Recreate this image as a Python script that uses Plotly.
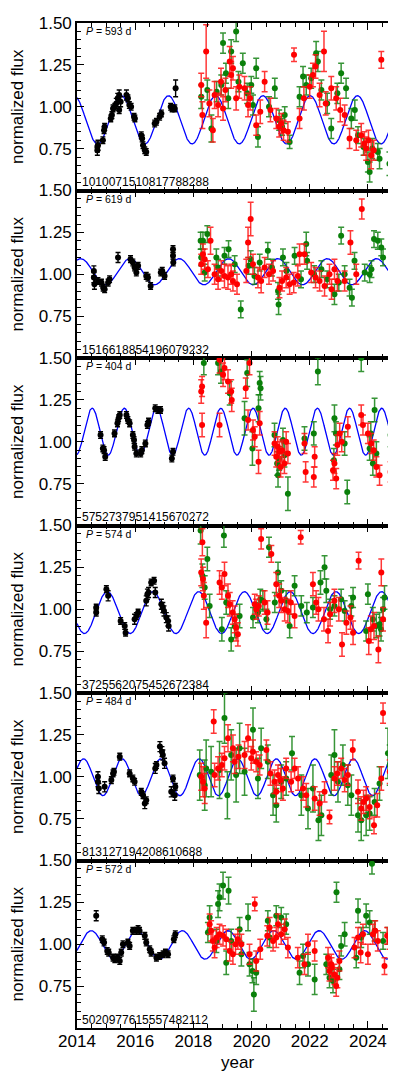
import numpy as np
import plotly.graph_objects as go
from plotly.subplots import make_subplots

# ---------------- panel metadata ----------------
source_ids = ["1010071510817788288", "1516618854196079232", "5752737951415670272",
              "3725562075452672384", "813127194208610688", "5020977615557482112"]
periods_days = [593, 619, 404, 574, 484, 572]
fit_mean = [0.922, 1.015, 1.06, 0.98, 0.997, 0.996]
fit_amp = [0.144, 0.078, 0.14, 0.125, 0.11, 0.085]
fit_tmax = [2015.52, 2015.82, 2014.52, 2015.04, 2015.55, 2014.49]

x_ticks = [2014, 2016, 2018, 2020, 2022, 2024]
y_ticks = [0.5, 0.75, 1.0, 1.25, 1.5]
y_ticktext = ["", "0.75", "1.00", "1.25", "1.50"]

# ---------------- panel 1 ----------------
p1_blk_x = [2014.70, 2014.70, 2014.72, 2014.89, 2014.93, 2014.95, 2015.16, 2015.20, 2015.24, 2015.30, 2015.35, 2015.40, 2015.45, 2015.50, 2015.45, 2015.70, 2015.75, 2015.80, 2015.86, 2015.96, 2015.99, 2016.21, 2016.24, 2016.27, 2016.33, 2016.38, 2016.67, 2016.73, 2016.84, 2016.90, 2017.22, 2017.27, 2017.36, 2017.39]
p1_blk_y = [0.76, 0.74, 0.77, 0.80, 0.86, 0.88, 0.93, 0.95, 0.99, 1.00, 1.02, 1.05, 1.07, 1.03, 0.98, 1.07, 1.05, 1.01, 1.00, 0.94, 0.93, 0.83, 0.81, 0.77, 0.74, 0.73, 0.90, 0.91, 0.94, 0.96, 1.00, 0.99, 0.99, 1.11]
p1_blk_e = [0.03, 0.03, 0.03, 0.02, 0.02, 0.02, 0.02, 0.02, 0.02, 0.02, 0.03, 0.03, 0.03, 0.03, 0.02, 0.03, 0.02, 0.02, 0.02, 0.02, 0.02, 0.02, 0.02, 0.02, 0.02, 0.02, 0.02, 0.02, 0.02, 0.02, 0.02, 0.02, 0.02, 0.05]
p1_grn_x = [2018.27, 2018.48, 2018.62, 2018.80, 2018.96, 2019.02, 2019.12, 2019.20, 2019.30, 2019.47, 2019.55, 2019.70, 2019.85, 2019.99, 2020.05, 2020.16, 2020.22, 2020.60, 2020.80, 2020.95, 2021.05, 2021.14, 2021.31, 2021.65, 2021.77, 2021.88, 2022.05, 2022.22, 2022.28, 2022.40, 2022.60, 2022.74, 2022.95, 2023.08, 2023.25, 2023.43, 2023.55, 2023.66, 2023.85, 2024.00, 2024.06, 2024.15, 2024.34, 2024.40, 2024.74, 2024.80, 2024.85]
p1_grn_y = [1.06, 1.10, 0.87, 1.09, 1.13, 1.38, 1.20, 1.05, 1.33, 1.45, 1.15, 1.26, 1.08, 1.13, 1.01, 1.23, 0.82, 1.00, 1.11, 0.92, 0.88, 0.95, 0.79, 1.06, 1.18, 1.13, 1.17, 1.32, 1.27, 1.10, 1.02, 0.87, 1.08, 1.20, 1.11, 0.93, 0.98, 0.83, 0.76, 0.67, 0.61, 0.75, 0.73, 0.69, 0.66, 0.75, 0.61]
p1_grn_e = [0.07, 0.06, 0.08, 0.06, 0.06, 0.06, 0.06, 0.06, 0.07, 0.06, 0.06, 0.06, 0.06, 0.05, 0.06, 0.06, 0.06, 0.06, 0.06, 0.06, 0.05, 0.05, 0.04, 0.06, 0.06, 0.06, 0.06, 0.07, 0.06, 0.06, 0.06, 0.06, 0.06, 0.06, 0.06, 0.06, 0.06, 0.05, 0.05, 0.06, 0.06, 0.06, 0.05, 0.06, 0.07, 0.05, 0.06]
p1_red_x = [2018.27, 2018.31, 2018.44, 2018.55, 2018.67, 2018.73, 2018.85, 2018.95, 2019.02, 2019.10, 2019.25, 2019.30, 2019.36, 2019.47, 2019.58, 2019.76, 2019.88, 2019.95, 2020.16, 2020.30, 2020.45, 2020.65, 2020.85, 2020.95, 2021.02, 2021.10, 2021.25, 2021.46, 2021.65, 2021.80, 2022.00, 2022.11, 2022.20, 2022.34, 2022.49, 2022.55, 2022.74, 2022.91, 2023.05, 2023.20, 2023.37, 2023.60, 2023.77, 2023.88, 2023.94, 2024.02, 2024.11, 2024.20, 2024.46, 2024.80]
p1_red_y = [1.13, 0.95, 1.33, 1.02, 0.86, 1.07, 1.01, 1.15, 0.99, 1.10, 1.27, 1.19, 1.23, 1.05, 1.12, 1.11, 1.01, 1.05, 0.89, 0.97, 1.15, 0.98, 0.93, 0.88, 0.90, 0.86, 0.85, 1.31, 0.93, 1.05, 1.12, 1.19, 1.24, 1.07, 1.33, 1.02, 1.11, 1.05, 0.98, 0.95, 0.81, 0.80, 0.83, 0.78, 0.75, 0.80, 0.71, 0.74, 1.28, 0.88]
p1_red_e = [0.07, 0.08, 0.16, 0.08, 0.07, 0.08, 0.07, 0.08, 0.07, 0.07, 0.09, 0.08, 0.07, 0.07, 0.07, 0.07, 0.07, 0.07, 0.06, 0.07, 0.06, 0.07, 0.06, 0.06, 0.06, 0.06, 0.06, 0.04, 0.06, 0.07, 0.07, 0.07, 0.07, 0.07, 0.12, 0.07, 0.07, 0.07, 0.07, 0.06, 0.06, 0.06, 0.07, 0.07, 0.07, 0.06, 0.08, 0.06, 0.05, 0.07]

# ---------------- panel 2 ----------------
p2_blk_x = [2014.58, 2014.58, 2014.60, 2014.72, 2014.84, 2014.90, 2014.95, 2015.07, 2015.12, 2015.41, 2015.84, 2015.92, 2015.98, 2016.04, 2016.10, 2016.38, 2016.44, 2016.53, 2016.88, 2016.93, 2017.01, 2017.30, 2017.30, 2017.31]
p2_blk_y = [1.02, 0.98, 0.94, 0.96, 0.95, 0.92, 0.91, 0.95, 0.97, 1.10, 1.09, 1.07, 1.04, 1.01, 1.05, 0.99, 0.98, 0.93, 1.01, 1.02, 0.99, 1.15, 1.11, 1.07]
p2_blk_e = [0.03, 0.03, 0.03, 0.02, 0.02, 0.02, 0.02, 0.02, 0.02, 0.03, 0.02, 0.02, 0.02, 0.02, 0.02, 0.02, 0.02, 0.02, 0.02, 0.02, 0.02, 0.02, 0.02, 0.02]
p2_grn_x = [2018.25, 2018.27, 2018.33, 2018.39, 2018.48, 2018.79, 2018.85, 2019.07, 2019.21, 2019.42, 2019.63, 2019.90, 2019.97, 2020.10, 2020.28, 2020.56, 2020.70, 2020.91, 2020.93, 2021.08, 2021.20, 2021.48, 2021.70, 2021.88, 2021.91, 2022.15, 2022.40, 2022.60, 2022.85, 2023.00, 2023.08, 2023.20, 2023.37, 2023.45, 2023.54, 2023.89, 2024.06, 2024.12, 2024.21, 2024.34, 2024.46, 2024.52]
p2_grn_y = [1.20, 1.10, 1.20, 1.01, 1.24, 1.10, 1.04, 1.11, 1.15, 1.06, 0.79, 1.05, 1.09, 0.99, 1.07, 1.14, 1.04, 0.90, 0.82, 1.10, 1.02, 1.11, 0.97, 1.18, 1.08, 1.00, 1.03, 0.97, 0.88, 0.95, 1.23, 1.00, 0.92, 0.86, 1.08, 1.01, 1.00, 1.03, 1.21, 1.20, 1.16, 1.10]
p2_grn_e = [0.05, 0.05, 0.05, 0.05, 0.05, 0.05, 0.05, 0.05, 0.05, 0.05, 0.05, 0.05, 0.05, 0.05, 0.05, 0.05, 0.05, 0.05, 0.06, 0.05, 0.05, 0.05, 0.05, 0.07, 0.05, 0.05, 0.05, 0.05, 0.06, 0.05, 0.05, 0.05, 0.05, 0.05, 0.05, 0.05, 0.05, 0.05, 0.05, 0.05, 0.05, 0.05]
p2_red_x = [2018.27, 2018.33, 2018.39, 2018.50, 2018.59, 2018.73, 2018.85, 2018.96, 2019.07, 2019.19, 2019.30, 2019.36, 2019.50, 2019.82, 2019.88, 2019.97, 2020.05, 2020.22, 2020.33, 2020.45, 2020.60, 2020.74, 2020.96, 2021.05, 2021.19, 2021.31, 2021.45, 2021.59, 2021.65, 2021.82, 2022.05, 2022.20, 2022.34, 2022.51, 2022.68, 2022.75, 2022.85, 2022.95, 2023.20, 2023.40, 2023.60, 2023.79]
p2_red_y = [1.06, 1.12, 1.09, 1.03, 1.20, 1.00, 0.97, 1.02, 0.99, 0.98, 1.00, 0.96, 0.94, 1.02, 1.19, 1.33, 1.06, 0.98, 0.96, 1.04, 1.00, 1.02, 0.92, 0.96, 0.98, 0.94, 0.95, 0.99, 1.12, 1.12, 1.01, 0.98, 0.96, 0.93, 1.00, 0.91, 1.03, 0.96, 0.96, 1.19, 1.00, 1.39]
p2_red_e = [0.06, 0.06, 0.06, 0.05, 0.08, 0.06, 0.06, 0.06, 0.07, 0.07, 0.06, 0.06, 0.06, 0.07, 0.09, 0.10, 0.06, 0.06, 0.07, 0.06, 0.06, 0.06, 0.06, 0.06, 0.06, 0.06, 0.06, 0.06, 0.06, 0.06, 0.06, 0.06, 0.06, 0.06, 0.06, 0.06, 0.06, 0.06, 0.06, 0.07, 0.06, 0.06]

# ---------------- panel 3 ----------------
p3_blk_x = [2014.81, 2014.89, 2014.93, 2014.97, 2015.29, 2015.39, 2015.43, 2015.47, 2015.70, 2015.75, 2015.81, 2015.92, 2015.96, 2015.98, 2016.04, 2016.19, 2016.23, 2016.35, 2016.42, 2016.46, 2016.69, 2016.78, 2016.87, 2017.26, 2017.30]
p3_blk_y = [1.04, 0.96, 0.95, 0.91, 1.05, 1.11, 1.14, 1.16, 1.16, 1.13, 1.11, 1.04, 1.01, 0.97, 0.93, 0.93, 0.95, 0.99, 1.10, 1.12, 1.20, 1.19, 1.19, 0.90, 0.94]
p3_blk_e = [0.02, 0.02, 0.02, 0.02, 0.02, 0.02, 0.02, 0.02, 0.02, 0.02, 0.02, 0.02, 0.02, 0.02, 0.02, 0.02, 0.02, 0.02, 0.02, 0.02, 0.02, 0.02, 0.02, 0.02, 0.02]
p3_grn_x = [2018.36, 2018.85, 2018.95, 2019.25, 2019.76, 2019.85, 2020.03, 2020.24, 2020.28, 2020.31, 2020.79, 2020.88, 2020.91, 2020.95, 2021.08, 2021.13, 2021.25, 2021.82, 2022.14, 2022.28, 2022.83, 2022.85, 2022.90, 2023.20, 2023.29, 2023.77, 2024.06, 2024.10, 2024.17, 2024.23, 2024.29, 2024.78]
p3_grn_y = [1.47, 1.47, 1.42, 1.29, 1.14, 1.41, 0.96, 1.20, 1.35, 1.32, 1.04, 0.87, 0.80, 0.90, 1.01, 0.92, 0.69, 1.02, 1.05, 1.42, 0.89, 1.14, 1.05, 0.99, 0.70, 1.50, 0.96, 1.05, 0.87, 1.19, 0.93, 1.04]
p3_grn_e = [0.07, 0.07, 0.07, 0.07, 0.10, 0.08, 0.10, 0.08, 0.07, 0.07, 0.07, 0.07, 0.07, 0.07, 0.07, 0.07, 0.10, 0.07, 0.07, 0.08, 0.07, 0.08, 0.07, 0.07, 0.07, 0.08, 0.07, 0.07, 0.07, 0.07, 0.07, 0.07]
p3_red_x = [2018.27, 2018.30, 2018.30, 2018.90, 2018.90, 2019.02, 2019.07, 2019.19, 2019.30, 2019.32, 2019.80, 2019.88, 2019.93, 2020.05, 2020.11, 2020.24, 2020.28, 2020.79, 2020.85, 2020.90, 2020.96, 2021.00, 2021.05, 2021.13, 2021.19, 2021.25, 2021.82, 2021.86, 2022.14, 2022.17, 2022.80, 2022.85, 2022.91, 2022.95, 2023.03, 2023.10, 2023.31, 2023.77, 2023.83, 2024.00, 2024.11, 2024.20, 2024.29, 2024.40, 2024.78, 2024.80]
p3_red_y = [1.30, 1.33, 1.10, 1.10, 1.49, 1.40, 1.44, 1.36, 1.30, 1.25, 1.32, 1.13, 1.47, 1.07, 1.03, 0.88, 1.11, 0.99, 0.91, 0.97, 0.94, 0.85, 0.95, 0.87, 1.00, 0.93, 0.99, 0.82, 0.79, 0.91, 0.83, 0.87, 0.78, 0.98, 1.05, 1.00, 1.09, 1.16, 1.10, 1.05, 0.99, 0.95, 0.85, 0.80, 0.82, 0.90]
p3_red_e = [0.07, 0.06, 0.07, 0.07, 0.08, 0.07, 0.07, 0.07, 0.07, 0.07, 0.06, 0.06, 0.07, 0.06, 0.06, 0.07, 0.07, 0.07, 0.06, 0.06, 0.06, 0.06, 0.06, 0.06, 0.06, 0.06, 0.06, 0.06, 0.06, 0.06, 0.06, 0.06, 0.06, 0.06, 0.06, 0.06, 0.06, 0.06, 0.06, 0.06, 0.06, 0.06, 0.06, 0.06, 0.06, 0.06]

# ---------------- panel 4 ----------------
p4_blk_x = [2014.66, 2014.66, 2015.01, 2015.07, 2015.50, 2015.64, 2015.67, 2015.98, 2016.04, 2016.10, 2016.38, 2016.42, 2016.46, 2016.55, 2016.65, 2016.69, 2016.90, 2016.95, 2016.99, 2017.07, 2017.13, 2017.15]
p4_blk_y = [1.01, 0.98, 1.12, 1.08, 0.93, 0.90, 0.86, 0.94, 0.96, 0.98, 1.05, 1.09, 1.10, 1.16, 1.17, 1.10, 1.03, 1.01, 0.99, 0.95, 0.93, 0.90]
p4_blk_e = [0.02, 0.02, 0.02, 0.03, 0.02, 0.02, 0.02, 0.03, 0.02, 0.02, 0.03, 0.03, 0.03, 0.02, 0.02, 0.03, 0.03, 0.03, 0.03, 0.03, 0.03, 0.03]
p4_grn_x = [2018.25, 2018.31, 2018.39, 2018.48, 2018.56, 2018.98, 2019.05, 2019.13, 2019.30, 2019.42, 2019.59, 2020.05, 2020.22, 2020.30, 2020.39, 2020.51, 2020.60, 2020.80, 2020.91, 2021.02, 2021.19, 2021.31, 2021.48, 2021.71, 2021.90, 2022.11, 2022.37, 2022.51, 2022.57, 2022.70, 2022.85, 2023.08, 2023.20, 2023.43, 2023.49, 2023.94, 2024.00, 2024.17, 2024.29, 2024.40, 2024.45, 2024.52, 2024.57]
p4_grn_y = [1.47, 1.20, 1.13, 1.30, 1.02, 0.88, 1.44, 1.04, 0.82, 0.90, 0.96, 0.95, 0.98, 1.06, 1.05, 0.94, 1.37, 1.04, 1.22, 1.11, 1.05, 0.90, 1.14, 1.02, 0.98, 1.01, 1.16, 1.25, 1.11, 1.00, 1.02, 1.06, 0.99, 1.02, 1.07, 0.87, 1.09, 0.94, 0.90, 0.91, 0.88, 1.00, 1.07]
p4_grn_e = [0.08, 0.07, 0.07, 0.07, 0.07, 0.07, 0.07, 0.07, 0.07, 0.07, 0.07, 0.06, 0.06, 0.06, 0.06, 0.06, 0.06, 0.06, 0.06, 0.06, 0.06, 0.07, 0.06, 0.06, 0.06, 0.06, 0.07, 0.07, 0.07, 0.06, 0.06, 0.06, 0.06, 0.06, 0.06, 0.06, 0.06, 0.07, 0.07, 0.07, 0.07, 0.07, 0.07]
p4_red_x = [2018.27, 2018.31, 2018.33, 2018.36, 2018.44, 2018.90, 2018.98, 2019.07, 2019.19, 2019.25, 2019.35, 2019.42, 2019.47, 2019.53, 2020.11, 2020.16, 2020.25, 2020.33, 2020.45, 2020.55, 2020.68, 2020.85, 2020.95, 2021.02, 2021.14, 2021.25, 2021.35, 2021.48, 2021.69, 2022.11, 2022.22, 2022.30, 2022.49, 2022.63, 2022.70, 2022.85, 2023.00, 2023.11, 2023.26, 2023.40, 2023.49, 2023.68, 2024.03, 2024.10, 2024.21, 2024.36, 2024.46, 2024.52]
p4_red_y = [1.22, 1.40, 1.18, 1.08, 0.92, 1.16, 1.13, 1.21, 1.08, 1.03, 0.98, 0.94, 0.89, 0.85, 1.03, 1.00, 1.02, 1.42, 1.04, 0.98, 1.33, 1.15, 1.08, 1.05, 1.00, 0.99, 1.04, 0.96, 1.43, 1.15, 1.04, 1.00, 0.94, 0.87, 0.97, 1.05, 1.00, 0.79, 0.92, 0.95, 0.86, 1.29, 0.81, 0.88, 0.90, 0.76, 1.22, 0.94]
p4_red_e = [0.08, 0.08, 0.07, 0.08, 0.09, 0.07, 0.07, 0.07, 0.07, 0.07, 0.07, 0.08, 0.08, 0.07, 0.06, 0.06, 0.06, 0.06, 0.07, 0.07, 0.05, 0.07, 0.07, 0.07, 0.07, 0.07, 0.07, 0.07, 0.04, 0.07, 0.07, 0.07, 0.07, 0.07, 0.07, 0.07, 0.07, 0.07, 0.07, 0.07, 0.07, 0.05, 0.08, 0.08, 0.08, 0.08, 0.08, 0.07]

# ---------------- panel 5 ----------------
p5_blk_x = [2014.72, 2014.72, 2014.75, 2014.95, 2015.18, 2015.24, 2015.27, 2015.47, 2015.81, 2015.92, 2015.98, 2016.21, 2016.27, 2016.33, 2016.38, 2016.69, 2016.73, 2016.85, 2016.92, 2016.95, 2017.01, 2017.24, 2017.30, 2017.36, 2017.38]
p5_blk_y = [1.00, 0.97, 0.93, 0.94, 0.98, 1.02, 1.03, 1.12, 1.02, 0.99, 0.97, 0.91, 0.89, 0.84, 0.86, 1.05, 1.07, 1.18, 1.15, 1.13, 1.08, 0.91, 0.99, 0.89, 0.94]
p5_blk_e = [0.03, 0.03, 0.03, 0.03, 0.02, 0.02, 0.02, 0.02, 0.02, 0.02, 0.02, 0.02, 0.02, 0.03, 0.02, 0.03, 0.02, 0.03, 0.03, 0.03, 0.03, 0.03, 0.02, 0.03, 0.02]
p5_grn_x = [2018.22, 2018.39, 2018.44, 2018.61, 2018.90, 2019.07, 2019.17, 2019.30, 2019.47, 2019.59, 2019.76, 2020.05, 2020.22, 2020.33, 2020.56, 2020.74, 2020.85, 2021.02, 2021.19, 2021.39, 2021.71, 2021.94, 2022.11, 2022.30, 2022.40, 2022.74, 2022.85, 2022.97, 2023.14, 2023.31, 2023.43, 2023.66, 2023.77, 2023.94, 2024.06, 2024.23, 2024.40, 2024.69, 2024.75, 2024.80]
p5_grn_y = [1.01, 0.95, 1.05, 1.03, 1.04, 1.35, 0.89, 1.13, 1.01, 1.17, 1.03, 1.28, 0.99, 1.17, 1.09, 0.89, 0.83, 0.97, 0.99, 1.14, 0.89, 0.81, 0.93, 0.74, 0.77, 1.01, 1.13, 0.97, 1.07, 0.95, 0.89, 0.77, 0.74, 0.77, 0.78, 0.85, 0.96, 1.14, 1.07, 0.92]
p5_grn_e = [0.15, 0.15, 0.17, 0.15, 0.17, 0.15, 0.14, 0.15, 0.16, 0.15, 0.14, 0.13, 0.12, 0.12, 0.10, 0.12, 0.10, 0.10, 0.10, 0.10, 0.12, 0.12, 0.14, 0.12, 0.12, 0.12, 0.15, 0.12, 0.12, 0.12, 0.12, 0.10, 0.12, 0.12, 0.10, 0.08, 0.10, 0.15, 0.12, 0.15]
p5_red_x = [2018.27, 2018.33, 2018.39, 2018.70, 2018.73, 2018.85, 2018.98, 2019.07, 2019.19, 2019.36, 2019.42, 2019.55, 2019.76, 2019.88, 2019.99, 2020.05, 2020.16, 2020.28, 2020.51, 2020.65, 2020.79, 2020.85, 2020.91, 2021.00, 2021.08, 2021.19, 2021.36, 2021.48, 2021.60, 2021.77, 2021.88, 2022.17, 2022.34, 2022.51, 2022.68, 2022.85, 2022.95, 2023.08, 2023.20, 2023.31, 2023.48, 2023.66, 2023.77, 2023.85, 2023.94, 2024.06, 2024.21, 2024.32, 2024.46, 2024.52, 2024.75, 2024.86]
p5_red_y = [1.00, 0.97, 0.93, 1.33, 1.01, 1.05, 1.07, 1.11, 1.23, 1.17, 1.09, 1.12, 1.13, 1.23, 1.11, 1.15, 1.09, 1.07, 1.16, 1.02, 0.97, 0.91, 1.01, 0.98, 0.93, 1.05, 0.97, 1.05, 0.99, 0.93, 0.89, 0.87, 0.84, 0.91, 0.76, 0.99, 1.02, 1.05, 0.98, 1.01, 1.16, 0.91, 0.81, 0.85, 0.87, 0.82, 0.71, 0.83, 0.99, 1.38, 1.03, 0.99]
p5_red_e = [0.08, 0.09, 0.09, 0.07, 0.07, 0.07, 0.07, 0.07, 0.08, 0.08, 0.07, 0.07, 0.08, 0.08, 0.07, 0.07, 0.06, 0.06, 0.06, 0.07, 0.07, 0.07, 0.06, 0.07, 0.07, 0.06, 0.06, 0.06, 0.07, 0.07, 0.07, 0.07, 0.07, 0.06, 0.04, 0.07, 0.07, 0.06, 0.07, 0.06, 0.06, 0.07, 0.07, 0.07, 0.07, 0.07, 0.05, 0.07, 0.07, 0.06, 0.07, 0.07]

# ---------------- panel 6 ----------------
p6_blk_x = [2014.66, 2014.87, 2014.93, 2015.04, 2015.09, 2015.24, 2015.30, 2015.39, 2015.47, 2015.52, 2015.58, 2015.75, 2015.81, 2015.92, 2016.04, 2016.10, 2016.15, 2016.33, 2016.38, 2016.50, 2016.55, 2016.73, 2016.84, 2016.96, 2017.04, 2017.13, 2017.33, 2017.38]
p6_blk_y = [1.17, 1.03, 1.01, 0.96, 0.95, 0.92, 0.91, 0.92, 0.90, 0.95, 1.00, 1.01, 0.99, 1.08, 1.08, 1.09, 1.08, 1.05, 1.01, 0.97, 0.95, 0.92, 0.93, 0.94, 0.95, 0.94, 1.03, 1.06]
p6_blk_e = [0.03, 0.02, 0.02, 0.02, 0.02, 0.02, 0.02, 0.02, 0.02, 0.02, 0.02, 0.02, 0.02, 0.02, 0.02, 0.02, 0.02, 0.02, 0.02, 0.02, 0.02, 0.02, 0.02, 0.02, 0.02, 0.02, 0.02, 0.02]
p6_grn_x = [2018.50, 2018.56, 2018.79, 2018.85, 2018.90, 2019.02, 2019.13, 2019.21, 2019.30, 2019.59, 2019.65, 2019.88, 2019.93, 2020.03, 2020.08, 2020.16, 2020.56, 2020.62, 2020.85, 2021.02, 2021.19, 2021.65, 2021.77, 2021.94, 2022.17, 2022.57, 2022.68, 2022.80, 2022.92, 2023.02, 2023.08, 2023.20, 2023.60, 2023.66, 2023.77, 2023.94, 2024.06, 2024.14, 2024.23, 2024.52, 2024.69, 2024.80]
p6_grn_y = [1.07, 1.16, 1.02, 1.24, 1.28, 1.35, 0.89, 1.32, 1.02, 1.09, 0.94, 1.16, 0.88, 0.84, 0.70, 0.83, 1.14, 1.04, 1.17, 1.16, 1.12, 0.83, 0.93, 0.88, 0.79, 0.88, 0.80, 0.78, 1.31, 0.85, 0.99, 1.06, 0.92, 1.20, 1.04, 1.17, 1.13, 1.48, 1.08, 1.02, 1.05, 0.86]
p6_grn_e = [0.06, 0.07, 0.07, 0.08, 0.08, 0.08, 0.07, 0.08, 0.07, 0.07, 0.07, 0.08, 0.07, 0.07, 0.10, 0.07, 0.06, 0.06, 0.06, 0.06, 0.06, 0.07, 0.07, 0.07, 0.09, 0.06, 0.06, 0.07, 0.06, 0.06, 0.06, 0.07, 0.06, 0.07, 0.06, 0.07, 0.07, 0.06, 0.06, 0.05, 0.05, 0.05]
p6_red_x = [2018.56, 2018.61, 2018.67, 2018.73, 2018.80, 2018.90, 2019.02, 2019.13, 2019.25, 2019.36, 2019.45, 2019.53, 2019.65, 2019.93, 2020.11, 2020.16, 2020.30, 2020.54, 2020.62, 2020.74, 2020.85, 2020.91, 2021.02, 2021.14, 2021.25, 2021.59, 2021.82, 2021.94, 2022.17, 2022.63, 2022.68, 2022.74, 2022.75, 2022.85, 2022.91, 2022.95, 2023.02, 2023.54, 2023.66, 2023.75, 2023.83, 2024.00, 2024.17, 2024.25, 2024.34, 2024.57, 2024.66, 2024.74]
p6_red_y = [1.12, 1.08, 1.02, 0.98, 1.04, 1.06, 1.05, 1.03, 0.96, 0.94, 1.00, 1.03, 1.00, 0.94, 1.24, 0.90, 0.97, 1.05, 1.10, 1.02, 1.04, 1.12, 1.06, 1.09, 0.98, 0.92, 0.88, 1.00, 0.96, 0.92, 0.84, 0.88, 0.86, 0.82, 0.75, 0.80, 0.90, 0.98, 1.04, 0.95, 1.06, 0.94, 1.06, 1.08, 1.02, 0.87, 1.05, 1.02]
p6_red_e = [0.06, 0.06, 0.06, 0.06, 0.06, 0.06, 0.06, 0.06, 0.06, 0.06, 0.06, 0.06, 0.06, 0.06, 0.04, 0.06, 0.06, 0.06, 0.06, 0.06, 0.06, 0.06, 0.06, 0.06, 0.06, 0.06, 0.06, 0.06, 0.06, 0.06, 0.06, 0.06, 0.06, 0.06, 0.06, 0.06, 0.06, 0.06, 0.06, 0.06, 0.06, 0.06, 0.06, 0.06, 0.06, 0.05, 0.05, 0.05]

black_sets = [(p1_blk_x, p1_blk_y, p1_blk_e), (p2_blk_x, p2_blk_y, p2_blk_e), (p3_blk_x, p3_blk_y, p3_blk_e),
              (p4_blk_x, p4_blk_y, p4_blk_e), (p5_blk_x, p5_blk_y, p5_blk_e), (p6_blk_x, p6_blk_y, p6_blk_e)]
green_sets = [(p1_grn_x, p1_grn_y, p1_grn_e), (p2_grn_x, p2_grn_y, p2_grn_e), (p3_grn_x, p3_grn_y, p3_grn_e),
              (p4_grn_x, p4_grn_y, p4_grn_e), (p5_grn_x, p5_grn_y, p5_grn_e), (p6_grn_x, p6_grn_y, p6_grn_e)]
red_sets = [(p1_red_x, p1_red_y, p1_red_e), (p2_red_x, p2_red_y, p2_red_e), (p3_red_x, p3_red_y, p3_red_e),
            (p4_red_x, p4_red_y, p4_red_e), (p5_red_x, p5_red_y, p5_red_e), (p6_red_x, p6_red_y, p6_red_e)]

# ---------------- figure ----------------
W, H = 396, 1072
M_L, M_R, M_T, M_B = 69, 7, 15, 52
N = 6
FONT = "Liberation Sans, Arial, Helvetica, sans-serif"
GREEN = "#0a800a"
GREEN_BAR = "rgba(20,130,20,0.85)"
RED = "#ff0000"
RED_BAR = "rgba(255,20,20,0.85)"

fig = make_subplots(rows=N, cols=1, shared_xaxes=True, vertical_spacing=0)

t_model = np.linspace(2014.0, 2025.0, 1500)

for i in range(N):
    r = i + 1
    P_yr = periods_days[i] / 365.25
    model = fit_mean[i] + fit_amp[i] * np.cos(2 * np.pi * (t_model - fit_tmax[i]) / P_yr)
    fig.add_trace(go.Scatter(x=t_model, y=model, mode="lines",
                             line=dict(color="#0000ff", width=1.3),
                             hoverinfo="skip", showlegend=False), row=r, col=1)
    bx, by, be = black_sets[i]
    fig.add_trace(go.Scatter(x=bx, y=by, mode="markers",
                             marker=dict(color="black", size=6),
                             error_y=dict(type="data", array=be, color="black", thickness=1.4, width=2.5),
                             showlegend=False), row=r, col=1)
    gx, gy, ge = green_sets[i]
    fig.add_trace(go.Scatter(x=gx, y=gy, mode="markers",
                             marker=dict(color=GREEN, size=6),
                             error_y=dict(type="data", array=ge, color=GREEN_BAR, thickness=1.5, width=3),
                             showlegend=False), row=r, col=1)
    rx, ry, re = red_sets[i]
    fig.add_trace(go.Scatter(x=rx, y=ry, mode="markers",
                             marker=dict(color=RED, size=6),
                             error_y=dict(type="data", array=re, color=RED_BAR, thickness=1.5, width=3),
                             showlegend=False), row=r, col=1)

plot_h = H - M_T - M_B
ph = plot_h / N
for i in range(N):
    r = i + 1
    top = 1 - (i * ph) / plot_h
    bot = 1 - ((i + 1) * ph) / plot_h
    yname = "yaxis" if i == 0 else f"yaxis{r}"
    xname = "xaxis" if i == 0 else f"xaxis{r}"
    fig.layout[yname].update(
        domain=[max(bot, 0), min(top, 1)], range=[0.5, 1.5],
        tickvals=y_ticks, ticktext=y_ticktext,
        ticks="inside", ticklen=7, tickwidth=1.3, tickcolor="black",
        minor=dict(dtick=0.05, tick0=0.5, ticks="inside", ticklen=4, tickwidth=1, tickcolor="black", showgrid=False),
        showgrid=False, zeroline=False, showline=True, linecolor="black", linewidth=1.6,
        mirror="allticks",
        tickfont=dict(family=FONT, size=17, color="black"),
        title=dict(text="normalized flux", font=dict(family=FONT, size=17, color="black"), standoff=15),
    )
    fig.layout[xname].update(
        range=[2014, 2025], tickvals=x_ticks,
        ticks="inside", ticklen=7, tickwidth=1.3, tickcolor="black",
        minor=dict(dtick=0.5, tick0=2014, ticks="inside", ticklen=4, tickwidth=1, tickcolor="black", showgrid=False),
        showgrid=False, zeroline=False, showline=True, linecolor="black", linewidth=1.6,
        mirror="allticks",
        showticklabels=(r == N),
        tickfont=dict(family=FONT, size=17, color="black"),
    )
    xref = "x domain" if i == 0 else f"x{r} domain"
    yref = "y domain" if i == 0 else f"y{r} domain"
    fig.add_annotation(x=0.022, y=0.952, xref=xref, yref=yref, xanchor="left", yanchor="middle",
                       text=f"<i>P</i> = {periods_days[i]} d", showarrow=False,
                       font=dict(family=FONT, size=10.5, color="black"))
    fig.add_annotation(x=0.009, y=0.05, xref=xref, yref=yref, xanchor="left", yanchor="middle",
                       text=source_ids[i], showarrow=False,
                       font=dict(family=FONT, size=12, color="black"))

fig.layout[f"xaxis{N}"].update(ticklabelstandoff=-3)

# x-axis title placed just under the tick labels
fig.add_annotation(x=0.5, y=0, xref="paper", yref="paper", yshift=-34,
                   xanchor="center", yanchor="middle", text="year", showarrow=False,
                   font=dict(family=FONT, size=17, color="black"))

fig.update_layout(
    width=W, height=H,
    margin=dict(l=M_L, r=M_R, t=M_T, b=M_B, autoexpand=False),
    paper_bgcolor="white", plot_bgcolor="white",
    showlegend=False,
    font=dict(family=FONT, color="black"),
)

fig.write_html("out.html", config={"displayModeBar": False})
